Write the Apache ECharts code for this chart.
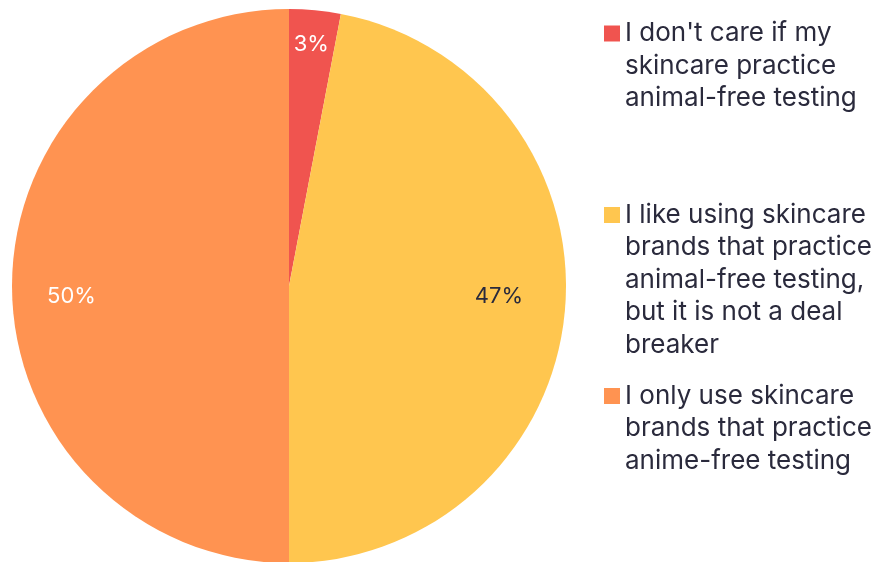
<!DOCTYPE html>
<html lang="en">
<head>
    <meta charset="UTF-8">
    <title>Animal-free testing</title>
    <script src="https://cdn.jsdelivr.net/npm/echarts@6/dist/echarts.min.js"></script>
    <style>
        html, body { margin: 0; padding: 0; background: #fff; }
        #main { width: 880px; height: 562px; }
    </style>
</head>
<body>
<div id="main"></div>
<script type="text/javascript">
    var categories = [
        "I don't care if my\nskincare practice\nanimal-free testing",
        "I like using skincare\nbrands that practice\nanimal-free testing,\nbut it is not a deal\nbreaker",
        "I only use skincare\nbrands that practice\nanime-free testing"
    ];
    var values = [3, 47, 50];
    var colors = ['#F0544F', '#FFC64F', '#FF9351'];
    var labelColors = ['#ffffff', '#2A2A3C', '#ffffff'];
    // label nudges away from the default r/2 spot
    var labelOffsets = [[9, -101], [69, -3], [-76, 10]];
    // y of each legend square's centre
    var legendIconY = [33.5, 215, 396];

    var font = 'Inter, "Open Sans", sans-serif';
    var lineH = 32.5;

    var myChart = echarts.init(document.getElementById('main'));

    var pieData = values.map(function (v, i) {
        return {
            name: categories[i],
            value: v,
            itemStyle: { color: colors[i] },
            label: { color: labelColors[i], offset: labelOffsets[i] }
        };
    });

    // legend text is centred on the square; blank lines in front of it
    // bring the first line level with the square
    var legends = categories.map(function (name, i) {
        var n = name.split('\n').length;
        var lead = new Array(n).join('\n');
        return {
            data: [name],
            orient: 'vertical',
            left: 604,
            top: legendIconY[i] - (2 * n - 1) * lineH / 2,
            padding: 0,
            icon: 'rect',
            itemWidth: 16,
            itemHeight: 16,
            itemGap: 0,
            selectedMode: false,
            formatter: function (nm) { return lead + nm; },
            textStyle: {
                fontFamily: font,
                fontSize: 26,
                lineHeight: lineH,
                color: '#2A2A3C'
            }
        };
    });

    var option = {
        animation: false,
        legend: legends,
        series: [
            {
                type: 'pie',
                center: [289, 286],
                radius: 277,
                startAngle: 90,
                clockwise: true,
                label: {
                    show: true,
                    position: 'inside',
                    formatter: '{c}%',
                    fontFamily: font,
                    fontSize: 22,
                    fontWeight: 'normal'
                },
                labelLine: { show: false },
                emphasis: { disabled: true },
                data: pieData
            }
        ]
    };
    myChart.setOption(option);
</script>
</body>
</html>
